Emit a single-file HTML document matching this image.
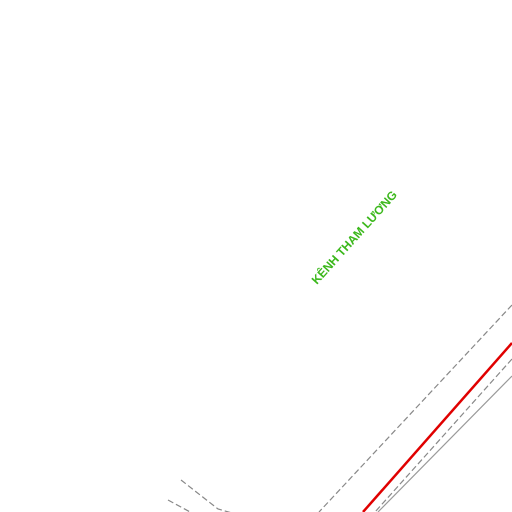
<!DOCTYPE html>
<html><head><meta charset="utf-8"><style>
html,body{margin:0;padding:0;background:#fff;width:512px;height:512px;overflow:hidden}
</style></head><body>
<svg width="512" height="512" viewBox="0 0 512 512" xmlns="http://www.w3.org/2000/svg">
<rect width="512" height="512" fill="#fff"/>
<path d="M512,305 L319,512" stroke="#888" stroke-width="1.2" stroke-dasharray="6,3" fill="none"/>
<path d="M512,343 L363,512" stroke="#e00000" stroke-width="2.5" fill="none"/>
<path d="M512,359 L375,512" stroke="#888" stroke-width="1.2" stroke-dasharray="6,3" fill="none"/>
<path d="M512,376 L378,512" stroke="#999" stroke-width="1.2" fill="none"/>
<path d="M181,480 L218,509 L232,513" stroke="#888" stroke-width="1.2" stroke-dasharray="6,3" fill="none"/>
<path d="M168,500 L192,513" stroke="#888" stroke-width="1.2" stroke-dasharray="6,3" fill="none"/>
<text x="355" y="238" transform="rotate(-48 355 238)" text-anchor="middle" dominant-baseline="middle" font-family="Liberation Sans, DejaVu Sans, sans-serif" font-size="12" font-weight="bold" fill="#3cb81c">KÊNH THAM LƯƠNG</text>
</svg>
</body></html>
